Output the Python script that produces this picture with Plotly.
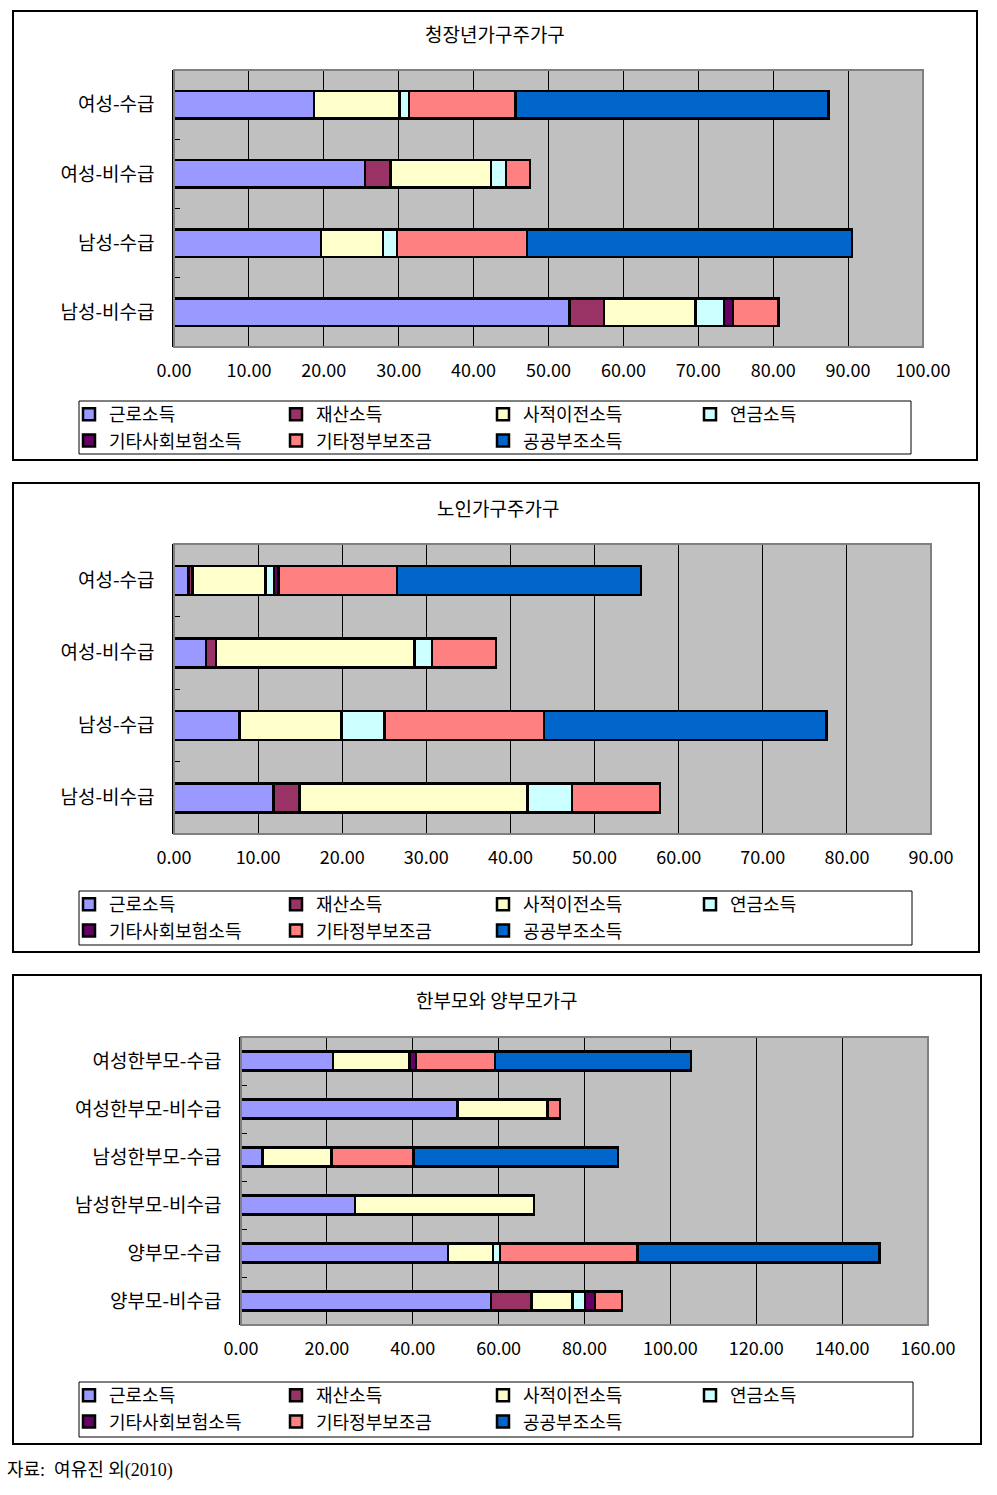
import plotly.graph_objects as go

# ---------------- data ----------------
series_names = ["근로소득", "재산소득", "사적이전소득", "연금소득",
                "기타사회보험소득", "기타정부보조금", "공공부조소득"]
series_colors = ["#9999FF", "#993366", "#FFFFCC", "#CCFFFF",
                 "#660066", "#FF8080", "#0066CC"]

# Panel 1: 청장년가구주가구
p1_title = "청장년가구주가구"
p1_cats = ["여성-수급", "여성-비수급", "남성-수급", "남성-비수급"]
p1_wage = [18.7, 25.5, 19.6, 52.8]
p1_property = [None, 3.4, None, 4.6]
p1_private = [11.4, 13.4, 8.3, 12.2]
p1_pension = [1.3, 2.0, 1.9, 3.8]
p1_social = [None, None, None, 1.2]
p1_govt = [14.2, 3.2, 17.3, 6.1]
p1_public = [41.8, None, 43.4, None]

# Panel 2: 노인가구주가구
p2_title = "노인가구주가구"
p2_cats = ["여성-수급", "여성-비수급", "남성-수급", "남성-비수급"]
p2_wage = [1.7, 3.8, 7.8, 11.8]
p2_property = [0.5, 1.2, None, 3.1]
p2_private = [8.7, 23.6, 12.1, 27.1]
p2_pension = [1.0, 2.1, 5.1, 5.3]
p2_social = [0.5, None, None, None]
p2_govt = [14.1, 7.6, 19.0, 10.5]
p2_public = [29.0, None, 33.6, None]

# Panel 3: 한부모와 양부모가구
p3_title = "한부모와 양부모가구"
p3_cats = ["여성한부모-수급", "여성한부모-비수급", "남성한부모-수급",
           "남성한부모-비수급", "양부모-수급", "양부모-비수급"]
p3_wage = [21.4, 50.4, 5.0, 26.6, 48.2, 58.2]
p3_property = [None, None, None, None, None, 9.4]
p3_private = [17.9, 21.0, 16.1, 41.6, 10.5, 9.6]
p3_pension = [None, None, None, None, 1.6, 2.9]
p3_social = [1.4, None, None, None, None, 2.3]
p3_govt = [18.5, 2.9, 19.1, None, 32.1, 6.3]
p3_public = [45.6, None, 47.6, None, 56.3, None]

p1_xmax, p1_dtick = 100, 10
p2_xmax, p2_dtick = 90, 10
p3_xmax, p3_dtick = 160, 20

source_text = "자료:  여유진 외(2010)"

# ---------------- layout helpers ----------------
W, H = 997, 1495
FONT = "Noto Sans CJK KR"


def fx(x):
    return x / W


def fy(y):
    return 1 - y / H


panels = [
    dict(title=p1_title, cats=p1_cats,
         vals=[p1_wage, p1_property, p1_private, p1_pension, p1_social, p1_govt, p1_public],
         xmax=p1_xmax, dtick=p1_dtick,
         plot=(174, 70, 923, 347), box=(13, 11, 977, 460), title_xy=(495, 34),
         legend_xy=(69, 396), legend_box=(79, 401, 911, 454)),
    dict(title=p2_title, cats=p2_cats,
         vals=[p2_wage, p2_property, p2_private, p2_pension, p2_social, p2_govt, p2_public],
         xmax=p2_xmax, dtick=p2_dtick,
         plot=(174, 544, 931, 834), box=(13, 483, 979, 952), title_xy=(498, 507),
         legend_xy=(69, 886), legend_box=(79, 891, 912, 945)),
    dict(title=p3_title, cats=p3_cats,
         vals=[p3_wage, p3_property, p3_private, p3_pension, p3_social, p3_govt, p3_public],
         xmax=p3_xmax, dtick=p3_dtick,
         plot=(241, 1037, 928, 1325), box=(13, 975, 981, 1444), title_xy=(497, 999),
         legend_xy=(69, 1377), legend_box=(79, 1382, 913, 1437)),
]

fig = go.Figure()
shapes = []
annotations = []
layout = dict(
    width=W, height=H,
    margin=dict(l=0, r=0, t=0, b=0, autoexpand=False),
    paper_bgcolor="white",
    plot_bgcolor="#C0C0C0",
    barmode="stack",
    bargap=0.6,
    font=dict(family=FONT, color="black", size=18),
)

for i, p in enumerate(panels):
    n = i + 1
    sfx = "" if n == 1 else str(n)
    xa, ya = "x" + sfx, "y" + sfx
    lg = "legend" + sfx
    for name, color, v in zip(series_names, series_colors, p["vals"]):
        fig.add_trace(go.Bar(
            x=v, y=p["cats"], orientation="h", name=name,
            marker=dict(color=color, line=dict(color="black", width=2.5)),
            xaxis=xa, yaxis=ya, legend=lg,
        ))
    x0, y0, x1, y1 = p["plot"]
    layout["xaxis" + sfx] = dict(
        domain=[fx(x0), fx(x1)], anchor=ya, range=[0, p["xmax"]],
        dtick=p["dtick"], tick0=0, tickformat=".2f",
        showgrid=True, gridcolor="black", gridwidth=1, zeroline=False,
        showline=False, ticks="", tickfont=dict(size=18, family=FONT),
        ticklabelstandoff=11, fixedrange=True, automargin=False,
    )
    layout["yaxis" + sfx] = dict(
        domain=[fy(y1), fy(y0)], anchor=xa, type="category",
        categoryorder="array", categoryarray=p["cats"], autorange="reversed",
        showgrid=False, zeroline=False, showline=True, linecolor="black",
        linewidth=1.5, ticks="inside", tickson="boundaries", ticklen=6,
        tickcolor="black", tickwidth=1, tickfont=dict(size=19, family=FONT),
        ticklabelstandoff=14, fixedrange=True, automargin=False,
    )
    # plot-area border (gray)
    shapes.append(dict(type="rect", xref=xa + " domain", yref=ya + " domain",
                       x0=0, x1=1, y0=0, y1=1, layer="above",
                       line=dict(color="#808080", width=2)))
    # panel box
    bx0, by0, bx1, by1 = p["box"]
    shapes.append(dict(type="rect", xref="paper", yref="paper",
                       x0=fx(bx0), x1=fx(bx1), y0=fy(by1), y1=fy(by0),
                       line=dict(color="black", width=2)))
    # legend frame
    gx0, gy0, gx1, gy1 = p["legend_box"]
    shapes.append(dict(type="rect", xref="paper", yref="paper",
                       x0=fx(gx0), x1=fx(gx1), y0=fy(gy1), y1=fy(gy0),
                       line=dict(color="black", width=1)))
    tx, ty = p["title_xy"]
    annotations.append(dict(text=p["title"], xref="paper", yref="paper",
                            x=fx(tx), y=fy(ty), xanchor="center", yanchor="middle",
                            showarrow=False, font=dict(size=19, family=FONT)))
    lx, ly = p["legend_xy"]
    layout[lg] = dict(
        x=fx(lx), y=fy(ly), xanchor="left", yanchor="top",
        orientation="h", traceorder="normal",
        entrywidth=162, entrywidthmode="pixels",
        borderwidth=0, bgcolor="rgba(0,0,0,0)",
        font=dict(size=18, family=FONT),
        itemclick=False, itemdoubleclick=False,
    )

annotations.append(dict(text=source_text, xref="paper", yref="paper",
                        x=fx(5), y=fy(1470), xanchor="left", yanchor="middle",
                        showarrow=False,
                        font=dict(size=18, family="Liberation Serif, " + FONT)))

layout["shapes"] = shapes
layout["annotations"] = annotations
fig.update_layout(**layout)
fig.write_html("out.html")
